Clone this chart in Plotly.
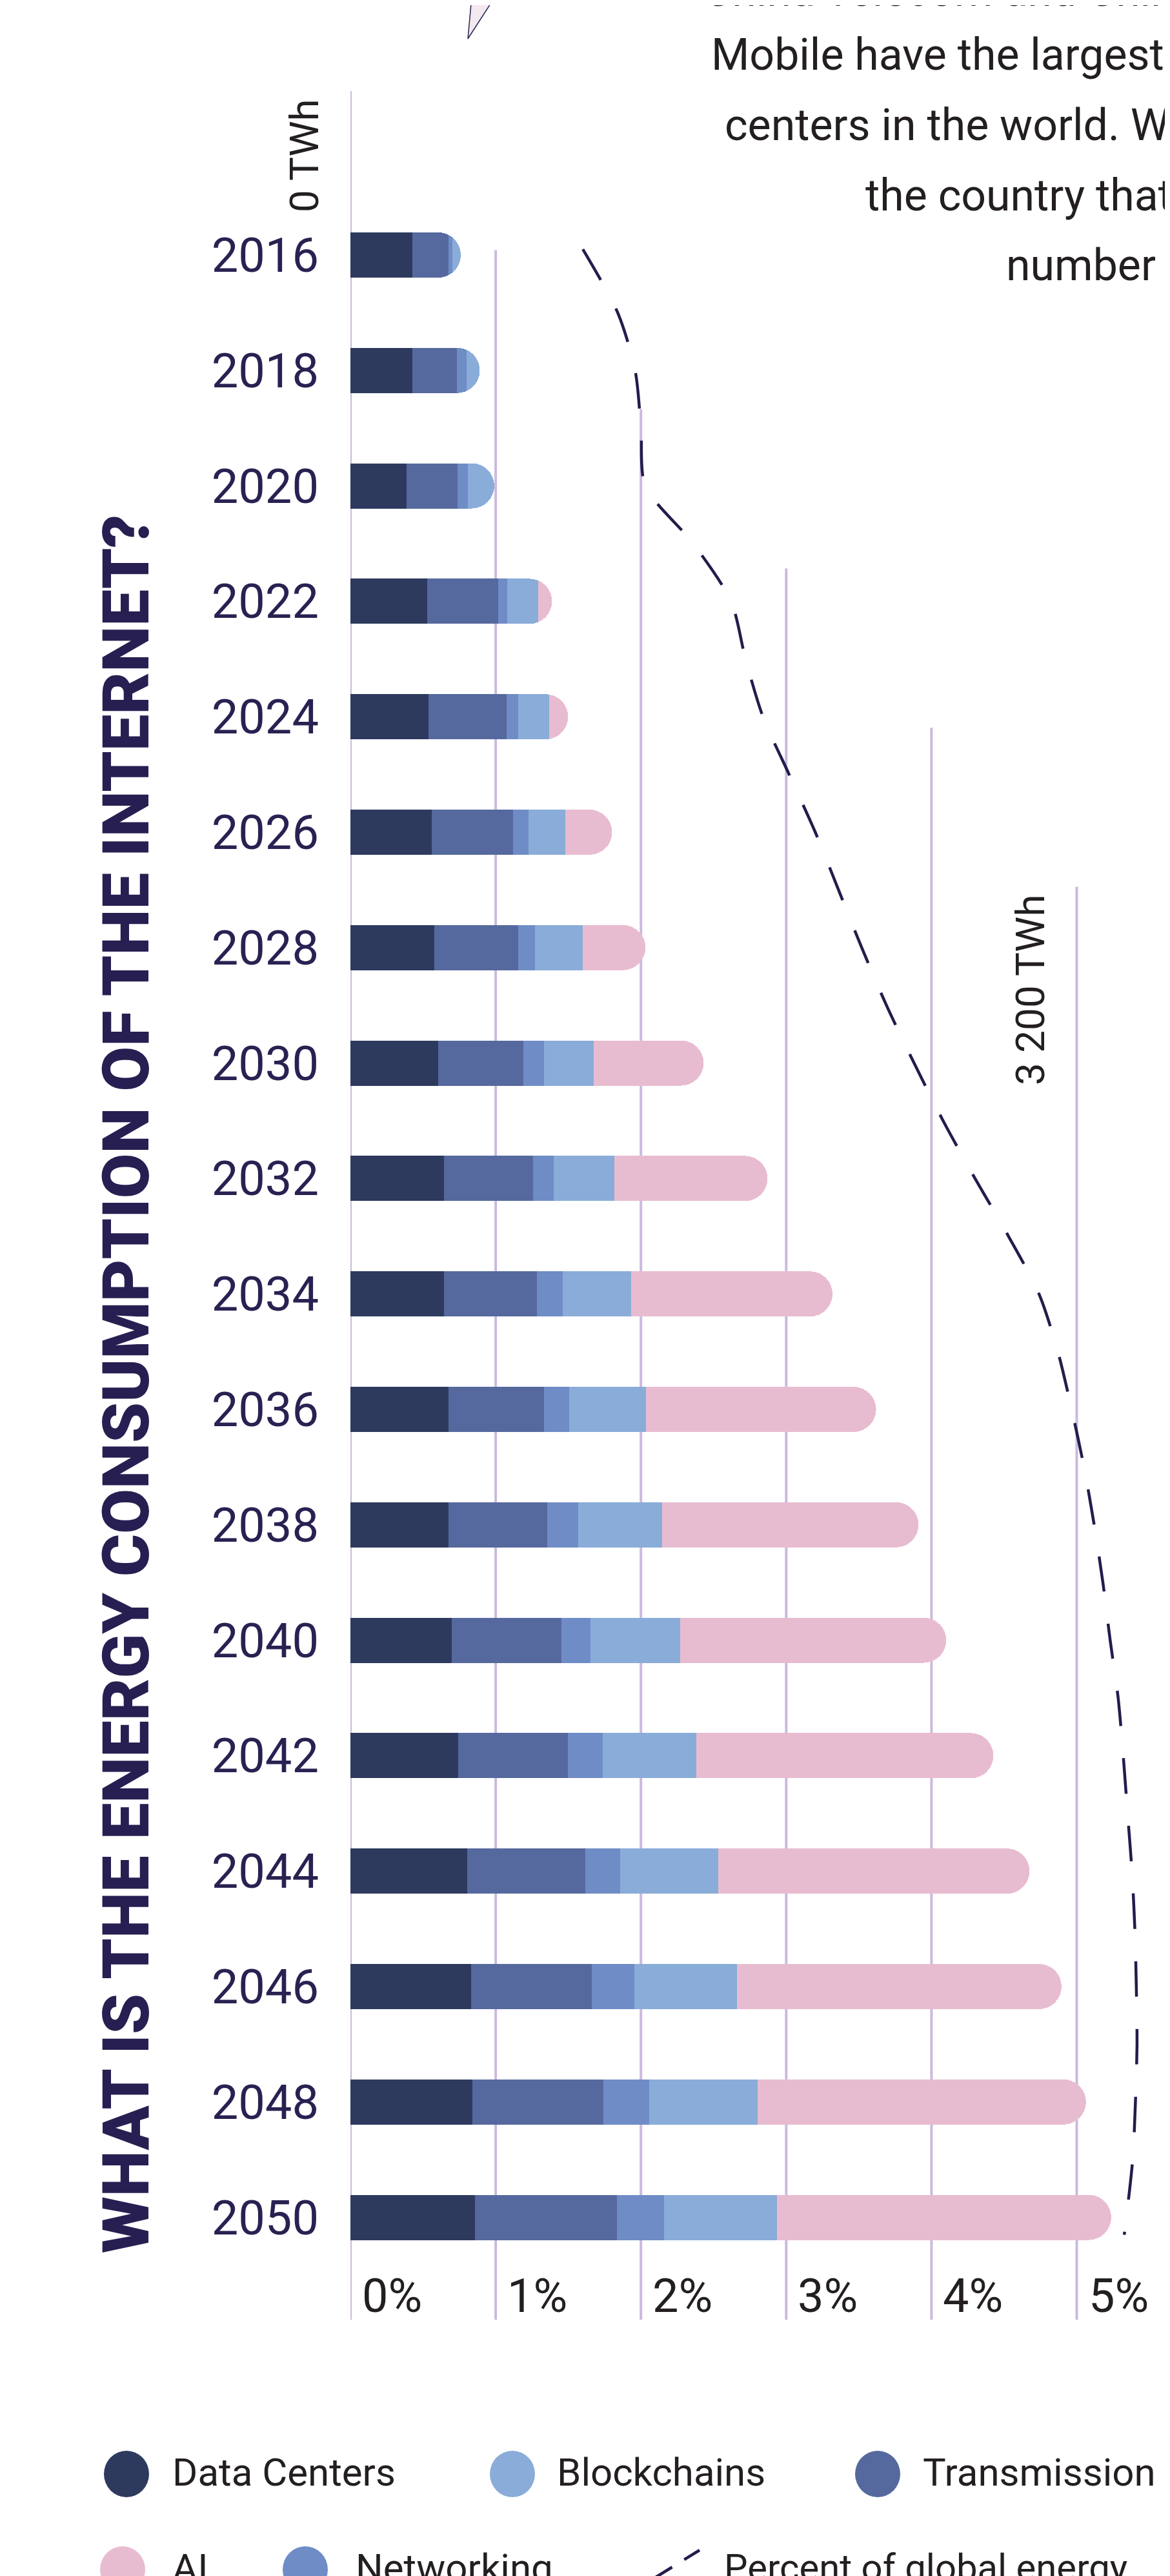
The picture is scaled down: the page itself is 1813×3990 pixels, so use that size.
import plotly.graph_objects as go

# ---------------- data ----------------
years = [2016, 2018, 2020, 2022, 2024, 2026, 2028, 2030, 2032, 2034,
         2036, 2038, 2040, 2042, 2044, 2046, 2048, 2050]
# energy consumption in TWh (5 % gridline = 3 200 TWh)
data_centers = [273, 273, 247, 338, 343, 357, 371, 386, 412, 412, 431, 431, 445, 474, 515, 531, 536, 550]
transmission = [159, 196, 224, 314, 345, 360, 367, 376, 393, 410, 421, 436, 486, 483, 519, 531, 579, 624]
networking = [17, 44, 47, 40, 52, 69, 74, 90, 90, 112, 112, 136, 126, 155, 155, 188, 202, 209]
blockchains = [37, 57, 116, 136, 136, 162, 212, 221, 269, 302, 338, 369, 397, 412, 431, 452, 476, 495]
ai = [None, None, None, 60, 83, 205, 276, 483, 674, 888, 1014, 1131, 1171, 1309, 1372, 1431, 1448, 1474]

line_years = [2015.9] + list(range(2017, 2050)) + [2050.3]
percent_global = [1.60, 1.84, 1.96, 2.00, 2.03, 2.36, 2.62, 2.72, 2.84, 3.02,
                  3.20, 3.36, 3.52, 3.69, 3.88, 4.08, 4.30, 4.53, 4.74, 4.87,
                  4.965, 5.05, 5.12, 5.18, 5.23, 5.285, 5.32, 5.35, 5.38, 5.40,
                  5.41, 5.415, 5.404, 5.385, 5.327]

pct_ticks = [0, 1, 2, 3, 4, 5]
pct_labels = ["0%", "1%", "2%", "3%", "4%", "5%"]
twh_labels = ["0 TWh", "3 200 TWh"]
twh_label_pct = [0, 5]

series_names = ["Data Centers", "Transmission", "Networking", "Blockchains", "AI"]
series_values = [data_centers, transmission, networking, blockchains, ai]
series_colors = ["#2d3a5e", "#56699e", "#6f8cc6", "#8aacd9", "#e8bcd0"]
line_name = "Percent of global energy"

title_text = "WHAT IS THE ENERGY CONSUMPTION OF THE INTERNET?"
body_lines = ["China Telecom and China", "Mobile have the largest",
              "centers in the world. W", "the country that", "number o"]

# ---------------- geometry ----------------
W, H = 1813, 3990
L = 535                 # pixel of the 0 % line
PW = W - L
PX_PER_PCT = 225.1
TWH_PER_PCT = 640
Y0_PX, PX_PER_YEAR = 387, 89.4

def px(x):
    return (x - L) / PW

def py(y):
    return 1 - y / H

FONT = "Roboto, Liberation Sans, sans-serif"
DARK = "#231f20"
PURPLE = "#2a2152"
GRID = "#cbbadd"

fig = go.Figure()
for name, vals, col in zip(series_names, series_values, series_colors):
    fig.add_trace(go.Bar(y=years, x=vals, orientation="h", name=name,
                         marker=dict(color=col, line=dict(width=0)),
                         width=0.783, showlegend=False, hoverinfo="x+name"))

fig.add_trace(go.Scatter(x=percent_global, y=line_years, xaxis="x2", mode="lines",
                         name=line_name, showlegend=False,
                         line=dict(color="#221d4c", width=4.5, dash="55px,50px",
                                   shape="spline", smoothing=0.8)))

shapes = []
ann = []
# staggered gridlines
for i, t in enumerate(pct_ticks):
    top = 133 + 246.5 * i
    shapes.append(dict(type="line", xref="x2", yref="paper", x0=t, x1=t,
                       y0=py(top), y1=py(3585), layer="below",
                       line=dict(color=GRID, width=4)))
    ann.append(dict(xref="x2", yref="paper", x=t, y=py(3548), text=pct_labels[i],
                    xanchor="left", yanchor="middle", xshift=16, showarrow=False,
                    font=dict(family=FONT, size=72, color=DARK)))

for t, lab in zip(twh_label_pct, twh_labels):
    top = 133 + 246.5 * t + 10
    ann.append(dict(xref="x2", yref="paper", x=t, y=py(top), text=lab, textangle=-90,
                    xanchor="center", yanchor="top", xshift=-72, showarrow=False,
                    font=dict(family=FONT, size=62, color=DARK)))

# title
ann.append(dict(xref="paper", yref="paper", x=px(187), y=py(2136), text=title_text,
                textangle=-90, xanchor="center", yanchor="middle", showarrow=False,
                font=dict(family="Roboto", size=101, color="#271f51", weight=900)))

# body text (clipped paragraph)
body_left = [1080, 1092, 1113, 1331, 1549]
body_mid = [-22, 77, 186, 295, 403]
for t, xl, ym in zip(body_lines, body_left, body_mid):
    ann.append(dict(xref="paper", yref="paper", x=px(xl), y=py(ym), text=t,
                    xanchor="left", yanchor="middle", showarrow=False,
                    font=dict(family=FONT, size=68, color=DARK)))

# speech-bubble tail
def P(x, y):
    return f"{px(x)},{py(y)}"
shapes.append(dict(type="path", xref="paper", yref="paper",
                   path=f"M {P(722,-2)} L {P(717,52)} L {P(752,-2)} Z",
                   fillcolor="#f4e8f1", line=dict(color="#2a2152", width=1.5)))

# legend
leg = [(0, 188, 257, 3824), (3, 786, 853, 3824), (1, 1352, 1420, 3824),
       (4, 182, 257, 3972), (2, 465, 541, 3972)]
for idx, cx, tx, cy in leg:
    shapes.append(dict(type="circle", xref="paper", yref="paper",
                       x0=px(cx - 35), x1=px(cx + 35), y0=py(cy - 36), y1=py(cy + 36),
                       fillcolor=series_colors[idx], line=dict(width=0)))
    ann.append(dict(xref="paper", yref="paper", x=px(tx), y=py(cy - 3), text=series_names[idx],
                    xanchor="left", yanchor="middle", showarrow=False,
                    font=dict(family=FONT, size=60, color=DARK)))
shapes.append(dict(type="line", xref="paper", yref="paper", x0=px(1008), y0=py(3984),
                   x1=px(1076), y1=py(3942), line=dict(color="#221d4c", width=4.5, dash="30px,22px")))
ann.append(dict(xref="paper", yref="paper", x=px(1112), y=py(3969), text=line_name,
                xanchor="left", yanchor="middle", showarrow=False,
                font=dict(family=FONT, size=58, color=DARK)))

fig.update_layout(
    width=W, height=H, margin=dict(l=L, r=0, t=0, b=0),
    paper_bgcolor="white", plot_bgcolor="white",
    barmode="stack", barcornerradius=35, showlegend=False,
    xaxis=dict(range=[0, PW / PX_PER_PCT * TWH_PER_PCT], showgrid=False, zeroline=False,
               showticklabels=False, showline=False, fixedrange=True),
    xaxis2=dict(range=[0, PW / PX_PER_PCT], overlaying="x", showgrid=False, zeroline=False,
                showticklabels=False, showline=False, fixedrange=True),
    yaxis=dict(range=[2016 + (H - Y0_PX) / PX_PER_YEAR, 2016 - Y0_PX / PX_PER_YEAR],
               tickvals=years, ticktext=[str(y) for y in years], ticks="",
               ticklabelstandoff=48, showgrid=False, zeroline=False, showline=False,
               tickfont=dict(family=FONT, size=74, color=PURPLE), fixedrange=True),
    shapes=shapes, annotations=ann,
)
fig.write_html("out.html")
